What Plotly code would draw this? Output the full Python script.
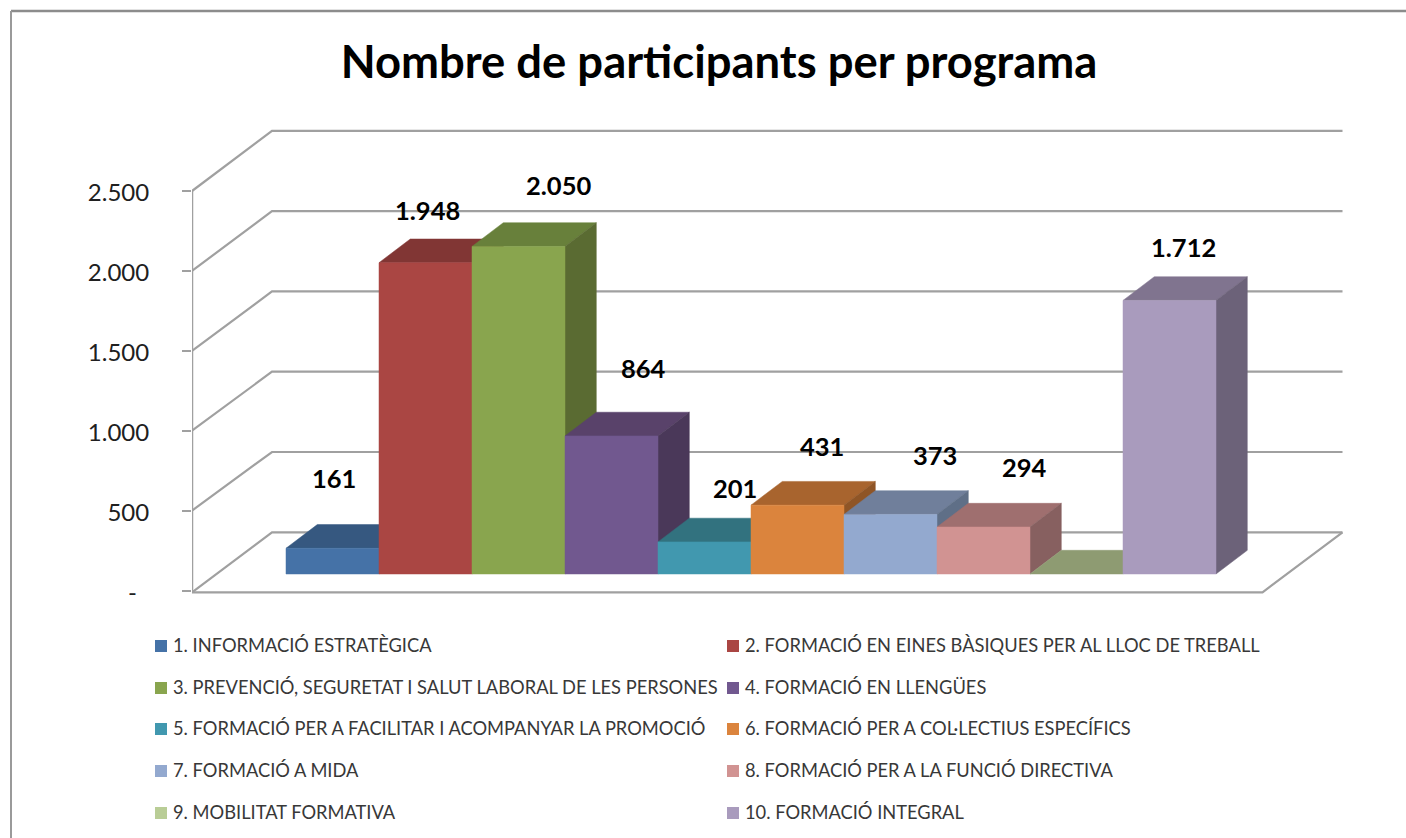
import plotly.graph_objects as go

W, H = 1406, 838
programs = [
    "1. INFORMACIÓ ESTRATÈGICA",
    "2. FORMACIÓ EN EINES BÀSIQUES PER AL LLOC DE TREBALL",
    "3. PREVENCIÓ, SEGURETAT I SALUT LABORAL DE LES PERSONES",
    "4. FORMACIÓ EN LLENGÜES",
    "5. FORMACIÓ PER A FACILITAR I ACOMPANYAR LA PROMOCIÓ",
    "6. FORMACIÓ PER A COL·LECTIUS ESPECÍFICS",
    "7. FORMACIÓ A MIDA",
    "8. FORMACIÓ PER A LA FUNCIÓ DIRECTIVA",
    "9. MOBILITAT FORMATIVA",
    "10. FORMACIÓ INTEGRAL",
]
participants = [161, 1948, 2050, 864, 201, 431, 373, 294, 0, 1712]
front_colors = ["#4572A7", "#AA4643", "#89A54E", "#71588F", "#4198AF",
                "#DB843D", "#93A9CF", "#D19392", "#B9CD96", "#A99BBD"]
top_colors = ["#365880", "#813634", "#68803B", "#59426A", "#32727F",
              "#A8642E", "#707F9B", "#9F6F6F", "#8E9B72", "#80748F"]
side_colors = ["#2F4D70", "#6E2E2C", "#5A6B32", "#4A3859", "#2C6370",
               "#8F5526", "#5F6F87", "#876060", "#7A8661", "#6C6279"]
label_dx = [1.5, 1.5, 39.5, 31.5, 30.5, 24, 44.5, 40.5, 0, 13.5]
label_dy = [70, 53, 61, 68, 54, 59.5, 59.5, 60, 0, 53]
y_ticks = [0, 500, 1000, 1500, 2000, 2500]
y_labels = ["-\u00a0\u00a0", "500", "1.000", "1.500", "2.000", "2.500"]

# axis scale: pixels per unit
PX_X = 93.0
PX_Y = 0.1598
X0_PX = 286.0        # left edge of the first bar
Y0_PX = 590.5        # value 0 on the front plane
PLOT = dict(l=192, r=1346, t=120, b=600)


def ax(dpx):
    return dpx / PX_X


def ay(dpx):
    return dpx / PX_Y


x_left = (PLOT["l"] - X0_PX) / PX_X - 0.5
x_right = (PLOT["r"] - X0_PX) / PX_X - 0.5
y_low = (Y0_PX - PLOT["b"]) / PX_Y
y_high = (Y0_PX - PLOT["t"]) / PX_Y

x_floor_right = (1262.5 - X0_PX) / PX_X - 0.5
wall_dx, wall_dy = ax(80), ay(58.2)
bar_dx, bar_dy = ax(31.3), ay(23.7)
bar_base = ay(16.5)
floor_drop = ay(1.8)
depth_scale = 1.005
grid_color = "#A0A0A0"

fig = go.Figure()

# wall gridlines
for v in y_ticks:
    back = v * depth_scale + wall_dy
    fig.add_trace(go.Scatter(
        x=[x_left, x_left + wall_dx, x_floor_right + wall_dx],
        y=[v - (floor_drop if v == 0 else 0), back, back],
        mode="lines", line=dict(color=grid_color, width=2.2),
        showlegend=False, hoverinfo="skip"))

# floor front edge and value axis line
fig.add_trace(go.Scatter(
    x=[x_left, x_floor_right, x_floor_right + wall_dx],
    y=[-floor_drop, -floor_drop, wall_dy],
    mode="lines", line=dict(color=grid_color, width=2.2),
    showlegend=False, hoverinfo="skip"))
fig.add_trace(go.Scatter(
    x=[x_left, x_left], y=[-floor_drop, y_ticks[-1]],
    mode="lines", line=dict(color=grid_color, width=2.5),
    showlegend=False, hoverinfo="skip"))


def face(xs, ys, color, name):
    fig.add_trace(go.Scatter(
        x=xs + xs[:1], y=ys + ys[:1], mode="lines", fill="toself",
        fillcolor=color, line=dict(color=color, width=0.5),
        name=name, showlegend=False, hoverinfo="name"))


# bars: painted left to right, so each one hides what lies behind it
for i, (name, v) in enumerate(zip(programs, participants)):
    x1, x2 = i - 0.5, i + 0.5
    y1, y2 = bar_base, bar_base + v
    face([x1, x2, x2 + bar_dx, x1 + bar_dx],
         [y2, y2, y2 + bar_dy, y2 + bar_dy], top_colors[i], name)
    if v:
        face([x2, x2 + bar_dx, x2 + bar_dx, x2],
             [y1, y1 + bar_dy, y2 + bar_dy, y2], side_colors[i], name)
        face([x1, x2, x2, x1], [y1, y1, y2, y2], front_colors[i], name)

annotations = []
for i, v in enumerate(participants):
    if not v:
        continue
    text = f"{v:,}".replace(",", ".")
    annotations.append(dict(
        x=i, y=bar_base + v, xref="x", yref="y", text=text, showarrow=False,
        xshift=label_dx[i], yshift=label_dy[i],
        xanchor="center", yanchor="middle",
        font=dict(family="Lato, Carlito, sans-serif", size=25.5, color="#000000", weight="bold")))

# legend, two columns
COL_PX = [155, 727]
ROW_PX = [646, 688, 729, 771, 813]
SWATCH = 12
shapes = []
for i, name in enumerate(programs):
    cx, cy = COL_PX[i % 2], ROW_PX[i // 2]
    shapes.append(dict(
        type="rect", xref="paper", yref="paper", layer="above",
        x0=(cx - PLOT["l"]) / (PLOT["r"] - PLOT["l"]),
        x1=(cx + SWATCH - PLOT["l"]) / (PLOT["r"] - PLOT["l"]),
        y0=(PLOT["b"] - cy + SWATCH / 2) / (PLOT["b"] - PLOT["t"]),
        y1=(PLOT["b"] - cy - SWATCH / 2) / (PLOT["b"] - PLOT["t"]),
        fillcolor=front_colors[i], line=dict(width=0)))
    annotations.append(dict(
        x=(cx + 16 - PLOT["l"]) / (PLOT["r"] - PLOT["l"]),
        y=(PLOT["b"] - cy + 1) / (PLOT["b"] - PLOT["t"]),
        xref="paper", yref="paper", text=name, showarrow=False,
        xanchor="left", yanchor="middle",
        font=dict(family="Lato, Carlito, sans-serif", size=18.3, color="#383838")))


# chart frame: top and left edges only
def px(x):
    return (x - PLOT["l"]) / (PLOT["r"] - PLOT["l"])


def py(y):
    return (PLOT["b"] - y) / (PLOT["b"] - PLOT["t"])


frame_line = dict(color="#8C8C8C", width=2.5)
shapes.append(dict(type="line", xref="paper", yref="paper", x0=px(11), x1=px(W), y0=py(11), y1=py(11), line=frame_line))
shapes.append(dict(type="line", xref="paper", yref="paper", x0=px(11), x1=px(11), y0=py(11), y1=py(H), line=dict(color="#9A9A9A", width=2)))

fig.update_layout(
    width=W, height=H,
    margin=dict(l=PLOT["l"], r=W - PLOT["r"], t=PLOT["t"], b=H - PLOT["b"], pad=0),
    paper_bgcolor="#FFFFFF", plot_bgcolor="#FFFFFF",
    showlegend=False,
    title=dict(text="<b>Nombre de participants per programa</b>",
               x=719 / W, xanchor="center", y=1 - 62 / H, yanchor="middle",
               font=dict(family="Lato, Carlito, sans-serif", size=45.4, color="#000000")),
    xaxis=dict(range=[x_left, x_right], visible=False, fixedrange=True),
    yaxis=dict(range=[y_low, y_high], tickmode="array", tickvals=y_ticks, ticktext=y_labels,
               showgrid=False, zeroline=False, showline=False,
               ticks="outside", ticklen=9, tickwidth=2, tickcolor=grid_color,
               ticklabelstandoff=28, ticklabelshift=2,
               tickfont=dict(family="Lato, Carlito, sans-serif", size=24, color="#202020"),
               fixedrange=True),
    annotations=annotations,
    shapes=shapes,
)

fig.write_html("out.html", config={"displayModeBar": False},
               post_script="document.body.style.margin='0';document.body.style.overflow='hidden';")
